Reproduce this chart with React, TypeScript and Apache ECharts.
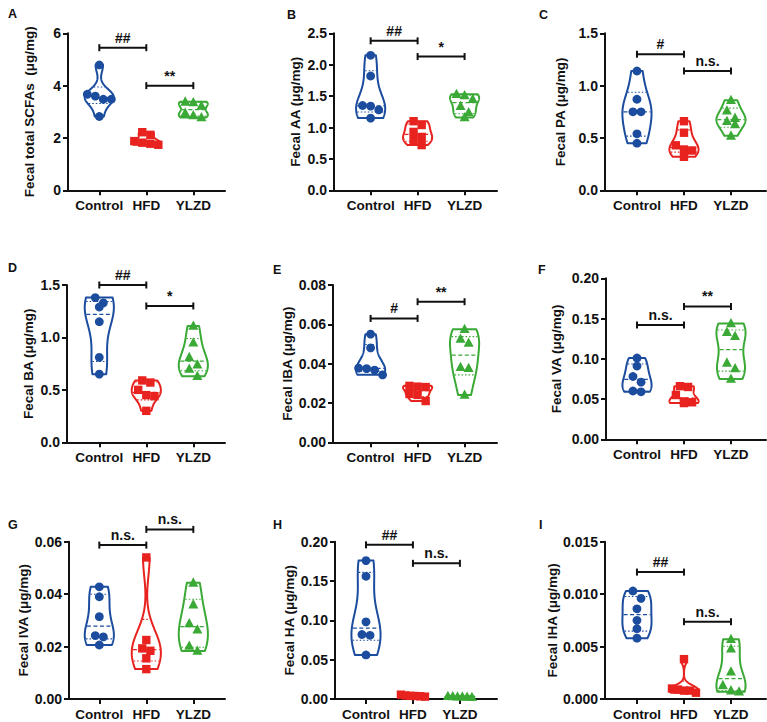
import React, { useEffect, useRef } from "react";
import * as echarts from "echarts";

const FONT = "'Liberation Sans', Arial, sans-serif";

const categories = ["Control", "HFD", "YLZD"];
const groupColors = ["#1B4C9E", "#E8221E", "#3AA935"];

// A: total SCFAs
const scfaControl = [4.79, 3.67, 3.6, 3.48, 3.48, 2.82];
const scfaHFD = [2.22, 2.12, 1.88, 1.82, 1.78, 1.74];
const scfaYLZD = [3.38, 3.36, 3.22, 2.95, 2.86, 2.78];
const scfaBrackets: [number, number, number, string][] = [[0, 1, 5.45, "##"], [1, 2, 4.0, "**"]];
// B: AA
const aaControl = [2.15, 1.82, 1.35, 1.34, 1.28, 1.15];
const aaHFD = [1.1, 1.04, 0.93, 0.85, 0.8, 0.72];
const aaYLZD = [1.53, 1.51, 1.45, 1.34, 1.24, 1.16];
const aaBrackets: [number, number, number, string][] = [[0, 1, 2.38, "##"], [1, 2, 2.13, "*"]];
// C: PA
const paControl = [1.14, 0.87, 0.75, 0.75, 0.54, 0.45];
const paHFD = [0.66, 0.55, 0.43, 0.39, 0.38, 0.32];
const paYLZD = [0.86, 0.76, 0.69, 0.66, 0.63, 0.52];
const paBrackets: [number, number, number, string][] = [[0, 1, 1.3, "#"], [1, 2, 1.14, "n.s."]];
// D: BA
const baControl = [1.38, 1.33, 1.29, 1.15, 0.81, 0.65];
const baHFD = [0.59, 0.57, 0.5, 0.45, 0.44, 0.3];
const baYLZD = [1.11, 0.95, 0.81, 0.74, 0.7, 0.63];
const baBrackets: [number, number, number, string][] = [[0, 1, 1.5, "##"], [1, 2, 1.3, "*"]];
// E: IBA
const ibaControl = [0.055, 0.048, 0.0377, 0.0375, 0.0367, 0.0343];
const ibaHFD = [0.0287, 0.0283, 0.0281, 0.0246, 0.0241, 0.021];
const ibaYLZD = [0.0575, 0.0525, 0.0505, 0.0382, 0.0377, 0.0241];
const ibaBrackets: [number, number, number, string][] = [[0, 1, 0.063, "#"], [1, 2, 0.0715, "**"]];
// F: VA
const vaControl = [0.101, 0.091, 0.078, 0.071, 0.06, 0.059];
const vaHFD = [0.066, 0.065, 0.055, 0.047, 0.046, 0.045];
const vaYLZD = [0.144, 0.133, 0.128, 0.095, 0.088, 0.075];
const vaBrackets: [number, number, number, string][] = [[0, 1, 0.142, "n.s."], [1, 2, 0.165, "**"]];
// G: IVA
const ivaControl = [0.0428, 0.039, 0.0314, 0.0242, 0.0237, 0.0206];
const ivaHFD = [0.054, 0.0225, 0.0193, 0.0184, 0.0155, 0.0114];
const ivaYLZD = [0.0443, 0.036, 0.0288, 0.0264, 0.0202, 0.0183];
const ivaBrackets: [number, number, number, string][] = [[0, 1, 0.0587, "n.s."], [1, 2, 0.0647, "n.s."]];
// H: HA
const haControl = [0.176, 0.156, 0.098, 0.082, 0.081, 0.056];
const haHFD = [0.0055, 0.0045, 0.004, 0.0038, 0.0035, 0.003];
const haYLZD = [0.0035, 0.0031, 0.003, 0.0028, 0.0025, 0.0022];
const haBrackets: [number, number, number, string][] = [[0, 1, 0.196, "##"], [1, 2, 0.1725, "n.s."]];
// I: IHA
const ihaControl = [0.0103, 0.0096, 0.0086, 0.0075, 0.0067, 0.0058];
const ihaHFD = [0.0038, 0.001, 0.0009, 0.0008, 0.0008, 0.0006];
const ihaYLZD = [0.0057, 0.0048, 0.0026, 0.0013, 0.0008, 0.0007];
const ihaBrackets: [number, number, number, string][] = [[0, 1, 0.0121, "##"], [1, 2, 0.00737, "n.s."]];

const panelLetters = ["A", "B", "C", "D", "E", "F", "G", "H", "I"];
const panelTitles = [
  "Fecal total SCFAs  (μg/mg)",
  "Fecal AA (μg/mg)",
  "Fecal PA (μg/mg)",
  "Fecal BA (μg/mg)",
  "Fecal IBA (μg/mg)",
  "Fecal VA (μg/mg)",
  "Fecal IVA (μg/mg)",
  "Fecal HA (μg/mg)",
  "Fecal IHA (μg/mg)",
];
const panelGroups = [
  [scfaControl, scfaHFD, scfaYLZD],
  [aaControl, aaHFD, aaYLZD],
  [paControl, paHFD, paYLZD],
  [baControl, baHFD, baYLZD],
  [ibaControl, ibaHFD, ibaYLZD],
  [vaControl, vaHFD, vaYLZD],
  [ivaControl, ivaHFD, ivaYLZD],
  [haControl, haHFD, haYLZD],
  [ihaControl, ihaHFD, ihaYLZD],
];
const panelBrackets = [scfaBrackets, aaBrackets, paBrackets, baBrackets, ibaBrackets, vaBrackets, ivaBrackets, haBrackets, ihaBrackets];
const yMaxes = [6, 2.5, 1.5, 1.5, 0.08, 0.2, 0.06, 0.2, 0.015];
const yIntervals = [2, 0.5, 0.5, 0.5, 0.02, 0.05, 0.02, 0.05, 0.005];
const yDecimals = [0, 1, 1, 1, 2, 2, 2, 2, 3];

// layout (pixels)
const layout = [
  { left: 68, right: 225, top: 33.3, bottom: 190.3, xMin: -0.666, xMax: 2.674, nameGap: 32, lx: 8, ly: 14 },
  { left: 334, right: 497, top: 33.3, bottom: 190.3, xMin: -0.78, xMax: 2.69, nameGap: 32, lx: 287, ly: 15 },
  { left: 605, right: 766, top: 33.3, bottom: 190.3, xMin: -0.68, xMax: 2.745, nameGap: 38, lx: 539, ly: 15 },
  { left: 67, right: 225, top: 285, bottom: 442.3, xMin: -0.687, xMax: 2.674, nameGap: 32, lx: 8, ly: 268 },
  { left: 333, right: 497, top: 285, bottom: 442.3, xMin: -0.8, xMax: 2.69, nameGap: 35, lx: 273, ly: 270 },
  { left: 606, right: 766, top: 278.3, bottom: 439.3, xMin: -0.66, xMax: 2.745, nameGap: 43, lx: 538, ly: 270 },
  { left: 69, right: 225, top: 541.7, bottom: 699, xMin: -0.645, xMax: 2.674, nameGap: 36, lx: 8, ly: 525 },
  { left: 335, right: 497, top: 541.7, bottom: 699, xMin: -0.66, xMax: 2.79, nameGap: 38, lx: 273, ly: 525 },
  { left: 605, right: 766, top: 541.7, bottom: 699, xMin: -0.68, xMax: 2.745, nameGap: 43, lx: 539, ly: 525 },
];

function quantile(sorted: number[], p: number) {
  const n = sorted.length;
  const pos = p * (n + 1);
  const lower = Math.floor(pos);
  const frac = pos - lower;
  if (lower < 1) return sorted[0];
  if (lower >= n) return sorted[n - 1];
  return sorted[lower - 1] + frac * (sorted[lower] - sorted[lower - 1]);
}

function makeViolinRenderer(groups: number[][]) {
  return (params: any, api: any) => {
    const gi = api.value(0);
    const vals = groups[gi].slice().sort((a, b) => a - b);
    const color = groupColors[gi];
    const n = vals.length;
    const mean = vals.reduce((s, v) => s + v, 0) / n;
    const sd = Math.sqrt(vals.reduce((s, v) => s + (v - mean) * (v - mean), 0) / (n - 1));
    const q1 = quantile(vals, 0.25);
    const med = quantile(vals, 0.5);
    const q3 = quantile(vals, 0.75);
    const spread = Math.min(sd, (q3 - q1) / 1.34 || sd);
    let h = 0.9 * spread * Math.pow(n, -0.2);
    if (!(h > 0)) h = (vals[n - 1] - vals[0]) / 4 || 1e-6;
    const dens = (y: number) => vals.reduce((s, v) => s + Math.exp(-0.5 * ((y - v) / h) ** 2), 0);
    const lo = vals[0];
    const hi = vals[n - 1];
    const steps = 80;
    const ys: number[] = [];
    const ds: number[] = [];
    let maxD = 0;
    for (let k = 0; k <= steps; k++) {
      const y = lo + ((hi - lo) * k) / steps;
      const d = dens(y);
      ys.push(y);
      ds.push(d);
      if (d > maxD) maxD = d;
    }
    const halfMax = api.size([0.31, 0])[0];
    const cx = api.coord([gi, lo])[0];
    const leftPts: number[][] = [];
    const rightPts: number[][] = [];
    for (let k = 0; k <= steps; k++) {
      const py = api.coord([gi, ys[k]])[1];
      const w = (halfMax * ds[k]) / maxD;
      leftPts.push([cx - w, py]);
      rightPts.push([cx + w, py]);
    }
    const poly = leftPts.concat(rightPts.reverse());
    const children: any[] = [
      {
        type: "polygon",
        shape: { points: poly },
        style: { fill: "#ffffff", stroke: color, lineWidth: 2, lineJoin: "round" },
      },
    ];
    const levelLine = (v: number, dash: number[], lw: number) => {
      const py = api.coord([gi, v])[1];
      const w = (halfMax * dens(v)) / maxD;
      children.push({
        type: "line",
        shape: { x1: cx - w + 1, y1: py, x2: cx + w - 1, y2: py },
        style: { stroke: color, lineWidth: lw, lineDash: dash },
      });
    };
    levelLine(q1, [1.5, 2], 1.1);
    levelLine(q3, [1.5, 2], 1.1);
    levelLine(med, [4, 2.5], 1.3);

    // points: sorted by value descending, grouped into rows of close pixel height
    const size = 9;
    const desc = groups[gi].slice().sort((a, b) => b - a);
    const pys = desc.map((v) => api.coord([gi, v])[1]);
    const rows: number[][] = [];
    let cur: number[] = [];
    let start = -Infinity;
    pys.forEach((py, idx) => {
      if (cur.length === 0 || py - start >= size * 0.85) {
        if (cur.length) rows.push(cur);
        cur = [idx];
        start = py;
      } else cur.push(idx);
    });
    if (cur.length) rows.push(cur);
    rows.forEach((row) => {
      const m = row.length;
      const spacing = m > 1 ? Math.min(size * 0.9, 24 / (m - 1)) : 0;
      row.forEach((idx, k) => {
        const px = cx + (k - (m - 1) / 2) * spacing;
        const py = pys[idx];
        if (gi === 0) {
          children.push({ type: "circle", shape: { cx: px, cy: py, r: 4.4 }, style: { fill: color } });
        } else if (gi === 1) {
          children.push({ type: "rect", shape: { x: px - 4.2, y: py - 4.2, width: 8.4, height: 8.4 }, style: { fill: color } });
        } else {
          children.push({
            type: "polygon",
            shape: { points: [[px, py - 5.5], [px + 5, py + 3.8], [px - 5, py + 3.8]] },
            style: { fill: color },
          });
        }
      });
    });
    return { type: "group", children };
  };
}

function makeBracketRenderer(brackets: [number, number, number, string][]) {
  return (params: any, api: any) => {
    const b = brackets[params.dataIndex];
    const p1 = api.coord([api.value(0), api.value(2)]);
    const p2 = api.coord([api.value(1), api.value(2)]);
    const st = { stroke: "#111", lineWidth: 2 };
    return {
      type: "group",
      children: [
        { type: "line", shape: { x1: p1[0], y1: p1[1], x2: p2[0], y2: p2[1] }, style: st },
        { type: "line", shape: { x1: p1[0], y1: p1[1] - 3.5, x2: p1[0], y2: p1[1] + 3.5 }, style: st },
        { type: "line", shape: { x1: p2[0], y1: p2[1] - 3.5, x2: p2[0], y2: p2[1] + 3.5 }, style: st },
        {
          type: "text",
          x: (p1[0] + p2[0]) / 2,
          y: p1[1] - 3,
          style: {
            text: b[3],
            align: "center",
            verticalAlign: "bottom",
            fontSize: 14,
            fontWeight: "bold",
            fontFamily: FONT,
            fill: "#111",
          },
        },
      ],
    };
  };
}

export default function App() {
  const ref = useRef<HTMLDivElement>(null);
  useEffect(() => {
    if (!ref.current) return;
    const chart = echarts.init(ref.current, undefined, { renderer: "svg" });
    const axisLine = { show: true, onZero: false, lineStyle: { color: "#111", width: 2 } };
    const labelStyle = { color: "#111", fontSize: 13.5, fontWeight: "bold" as const, fontFamily: FONT };
    const grids = layout.map((l) => ({
      left: l.left,
      top: l.top,
      width: l.right - l.left,
      height: l.bottom - l.top,
      containLabel: false,
      outerBoundsMode: "none",
    }));
    const xAxes = layout.map((l, i) => ({
      type: "value",
      gridIndex: i,
      min: l.xMin,
      max: l.xMax,
      splitLine: { show: false },
      axisLine,
      axisTick: { show: true, customValues: [0, 1, 2], length: 5, lineStyle: { color: "#111", width: 2 } },
      axisLabel: {
        ...labelStyle,
        customValues: [0, 1, 2],
        margin: 8,
        formatter: (v: number) => categories[Math.round(v)] ?? "",
      },
    }));
    const yAxes = layout.map((l, i) => ({
      type: "value",
      gridIndex: i,
      min: 0,
      max: yMaxes[i],
      interval: yIntervals[i],
      name: panelTitles[i],
      nameLocation: "middle",
      nameGap: l.nameGap,
      nameRotate: 90,
      nameTextStyle: { ...labelStyle },
      splitLine: { show: false },
      axisLine,
      axisTick: { show: true, length: 5, lineStyle: { color: "#111", width: 2 } },
      axisLabel: { ...labelStyle, fontSize: 14, margin: 7, formatter: (v: number) => v.toFixed(yDecimals[i]) },
    }));
    const series: any[] = [];
    panelGroups.forEach((groups, i) => {
      series.push({
        type: "custom",
        xAxisIndex: i,
        yAxisIndex: i,
        silent: true,
        clip: false,
        encode: { x: 0, y: 1 },
        data: groups.map((g, gi) => [gi, g[0]]),
        renderItem: makeViolinRenderer(groups),
        z: 3,
      });
      series.push({
        type: "custom",
        xAxisIndex: i,
        yAxisIndex: i,
        silent: true,
        clip: false,
        encode: { x: [0, 1], y: 2 },
        data: panelBrackets[i].map((b) => [b[0], b[1], b[2]]),
        renderItem: makeBracketRenderer(panelBrackets[i]),
        z: 3,
      });
    });
    const graphic = layout.map((l, i) => ({
      type: "text",
      left: l.lx,
      top: l.ly - 7,
      style: { text: panelLetters[i], fontSize: 12.5, fontWeight: "bold", fontFamily: FONT, fill: "#111" },
    }));
    chart.setOption({
      animation: false,
      backgroundColor: "#ffffff",
      grid: grids,
      xAxis: xAxes,
      yAxis: yAxes,
      series,
      graphic,
    });
    return () => chart.dispose();
  }, []);
  return (
    <div
      ref={ref}
      style={{ position: "absolute", left: 0, top: 0, width: 767, height: 722, background: "#fff" }}
    />
  );
}
